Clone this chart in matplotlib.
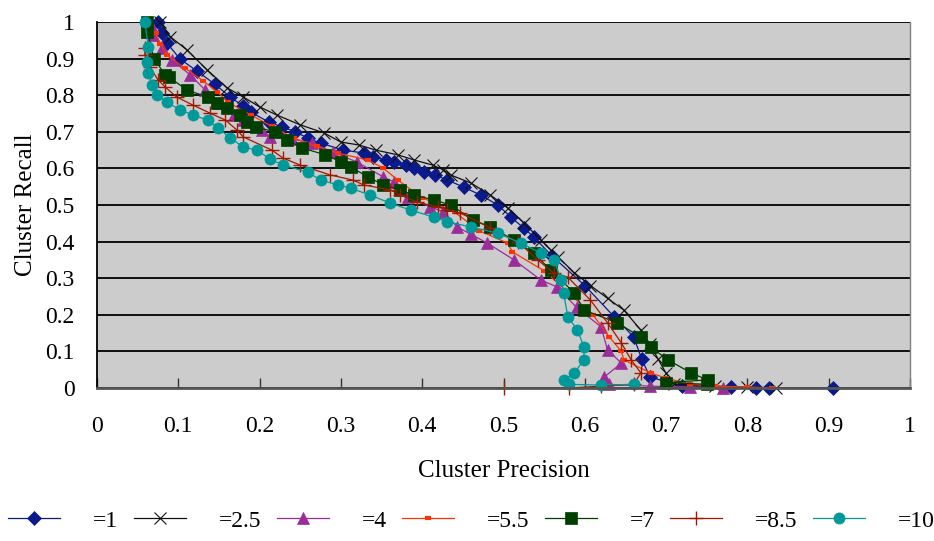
import matplotlib
matplotlib.use("Agg")
import matplotlib.pyplot as plt
from matplotlib.ticker import MultipleLocator, FuncFormatter

plt.rcParams['font.family'] = ['Liberation Serif', 'DejaVu Serif']

labels = ["=1", "=2.5", "=4", "=5.5", "=7", "=8.5", "=10"]

s1_x = [0.075, 0.080, 0.086, 0.102, 0.123, 0.145, 0.164, 0.180, 0.189, 0.211, 0.228, 0.244, 0.259, 0.275,
        0.303, 0.328, 0.340, 0.355, 0.365, 0.380, 0.390, 0.402, 0.416, 0.431, 0.451, 0.472, 0.493, 0.509,
        0.525, 0.537, 0.560, 0.600, 0.636, 0.660, 0.670, 0.680, 0.720, 0.780, 0.810, 0.827, 0.905]
s1_y = [1.000, 0.970, 0.943, 0.899, 0.866, 0.830, 0.795, 0.770, 0.754, 0.727, 0.713, 0.700, 0.683, 0.669,
        0.650, 0.642, 0.631, 0.623, 0.617, 0.609, 0.601, 0.590, 0.582, 0.568, 0.549, 0.527, 0.500, 0.467,
        0.437, 0.413, 0.360, 0.280, 0.195, 0.140, 0.080, 0.030, 0.005, 0.003, 0.000, 0.000, 0.000]

s2_x = [0.078, 0.090, 0.111, 0.135, 0.160, 0.180, 0.200, 0.221, 0.250, 0.279, 0.300, 0.322, 0.343, 0.370,
        0.390, 0.413, 0.426, 0.435, 0.460, 0.484, 0.505, 0.525, 0.546, 0.558, 0.567, 0.587, 0.607, 0.628,
        0.648, 0.669, 0.680, 0.690, 0.700, 0.710, 0.760, 0.800, 0.835]
s2_y = [1.000, 0.960, 0.923, 0.870, 0.820, 0.795, 0.768, 0.746, 0.719, 0.697, 0.672, 0.664, 0.650, 0.637,
        0.623, 0.609, 0.596, 0.582, 0.560, 0.527, 0.492, 0.451, 0.404, 0.377, 0.358, 0.315, 0.280, 0.245,
        0.213, 0.158, 0.120, 0.080, 0.040, 0.010, 0.005, 0.003, 0.000]

s3_x = [0.068, 0.069, 0.080, 0.092, 0.115, 0.133, 0.150, 0.168, 0.179, 0.203, 0.213, 0.240, 0.265, 0.290,
        0.320, 0.352, 0.365, 0.382, 0.410, 0.426, 0.443, 0.460, 0.480, 0.513, 0.546, 0.566, 0.590, 0.620,
        0.628, 0.645, 0.624, 0.630, 0.680, 0.730, 0.770]
s3_y = [0.985, 0.964, 0.929, 0.896, 0.855, 0.814, 0.780, 0.746, 0.732, 0.705, 0.686, 0.680, 0.669, 0.645,
        0.617, 0.577, 0.563, 0.522, 0.495, 0.481, 0.440, 0.420, 0.396, 0.350, 0.295, 0.276, 0.220, 0.167,
        0.104, 0.068, 0.030, 0.010, 0.005, 0.003, 0.000]

s4_x = [0.072, 0.078, 0.086, 0.108, 0.130, 0.148, 0.161, 0.190, 0.215, 0.242, 0.270, 0.296, 0.333, 0.352,
        0.370, 0.400, 0.440, 0.470, 0.505, 0.511, 0.550, 0.580, 0.610, 0.630, 0.645, 0.648, 0.681, 0.700,
        0.730, 0.760, 0.800, 0.830]
s4_y = [0.970, 0.940, 0.910, 0.874, 0.840, 0.809, 0.781, 0.745, 0.715, 0.683, 0.660, 0.642, 0.623, 0.601,
        0.568, 0.520, 0.480, 0.430, 0.396, 0.372, 0.320, 0.260, 0.200, 0.140, 0.100, 0.077, 0.041, 0.027,
        0.010, 0.005, 0.003, 0.000]

s5_x = [0.062, 0.062, 0.070, 0.084, 0.088, 0.111, 0.136, 0.148, 0.160, 0.176, 0.185, 0.195, 0.219, 0.234,
        0.252, 0.281, 0.300, 0.312, 0.333, 0.352, 0.373, 0.390, 0.414, 0.435, 0.463, 0.484, 0.513, 0.537,
        0.558, 0.587, 0.599, 0.640, 0.669, 0.681, 0.702, 0.731, 0.751, 0.700, 0.750]
s5_y = [1.000, 0.973, 0.900, 0.855, 0.850, 0.814, 0.795, 0.779, 0.765, 0.746, 0.727, 0.713, 0.700, 0.678,
        0.656, 0.637, 0.618, 0.604, 0.577, 0.555, 0.541, 0.527, 0.514, 0.500, 0.459, 0.440, 0.404, 0.369,
        0.322, 0.260, 0.213, 0.178, 0.139, 0.112, 0.077, 0.041, 0.022, 0.015, 0.010]

s6_x = [0.059, 0.059, 0.065, 0.075, 0.084, 0.098, 0.118, 0.139, 0.158, 0.172, 0.180, 0.215, 0.229, 0.250,
        0.287, 0.315, 0.328, 0.361, 0.373, 0.394, 0.419, 0.431, 0.447, 0.484, 0.518, 0.542, 0.562, 0.579,
        0.607, 0.628, 0.645, 0.657, 0.669, 0.660, 0.620, 0.580, 0.500]
s6_y = [0.930, 0.910, 0.877, 0.842, 0.822, 0.795, 0.773, 0.751, 0.732, 0.705, 0.686, 0.650, 0.628, 0.609,
        0.582, 0.568, 0.555, 0.541, 0.527, 0.508, 0.495, 0.486, 0.478, 0.437, 0.399, 0.350, 0.314, 0.303,
        0.240, 0.178, 0.123, 0.077, 0.041, 0.010, 0.005, 0.000, 0.000]

s7_x = [0.059, 0.063, 0.062, 0.063, 0.068, 0.074, 0.086, 0.102, 0.118, 0.136, 0.149, 0.164, 0.180, 0.197,
        0.213, 0.229, 0.259, 0.275, 0.296, 0.312, 0.336, 0.361, 0.386, 0.414, 0.431, 0.460, 0.493, 0.521,
        0.546, 0.562, 0.571, 0.574, 0.579, 0.591, 0.599, 0.599, 0.587, 0.574, 0.580, 0.620, 0.660]
s7_y = [1.000, 0.932, 0.890, 0.860, 0.828, 0.800, 0.781, 0.760, 0.746, 0.732, 0.710, 0.683, 0.658, 0.650,
        0.625, 0.609, 0.590, 0.568, 0.555, 0.546, 0.527, 0.505, 0.486, 0.467, 0.454, 0.440, 0.423, 0.396,
        0.369, 0.350, 0.295, 0.260, 0.195, 0.158, 0.112, 0.077, 0.041, 0.022, 0.010, 0.008, 0.010]

series_x = [s1_x, s2_x, s3_x, s4_x, s5_x, s6_x, s7_x]
series_y = [s1_y, s2_y, s3_y, s4_y, s5_y, s6_y, s7_y]

styles = [
    dict(color='#0A1A8C', marker='D', ms=7, mew=0.5),
    dict(color='#111111', marker='x', ms=8, mew=0.8),
    dict(color='#9B2D9B', marker='^', ms=9, mew=0.5),
    dict(color='#FF3300', marker='_', ms=5, mew=3),
    dict(color='#003F00', marker='s', ms=8, mew=0.5),
    dict(color='#A01800', marker='+', ms=10, mew=1.0),
    dict(color='#009999', marker='o', ms=8, mew=0.5),
]

fig = plt.figure(figsize=(9.34, 5.41), dpi=100)
ax = fig.add_axes([97/934, 1-388/541, (910-97)/934, (388-22)/541])
ax.set_facecolor('#CCCCCC')

handles = []
for xs, ys, st, lab in zip(series_x, series_y, styles, labels):
    h, = ax.plot(xs, ys, color=st['color'], lw=0.9, marker=st['marker'], ms=st['ms'],
                 mew=st['mew'], mfc=st['color'], mec=st['color'], label=lab, clip_on=False)
    handles.append(h)

ax.set_xlim(0, 1)
ax.set_ylim(0, 1)
ax.xaxis.set_major_locator(MultipleLocator(0.1))
ax.yaxis.set_major_locator(MultipleLocator(0.1))
fmt = FuncFormatter(lambda v, p: ('%g' % round(v, 2)))
ax.xaxis.set_major_formatter(fmt)
ax.yaxis.set_major_formatter(fmt)
ax.grid(axis='y', color='#000000', lw=1.3)
ax.set_axisbelow(True)
ax.tick_params(axis='x', direction='in', length=7, width=1, color='#333333', pad=20, labelsize=17)
ax.tick_params(axis='y', length=0, pad=16, labelsize=17)
ax.spines['top'].set_visible(False)
ax.spines['left'].set_color('#000000')
ax.spines['left'].set_linewidth(1.3)
ax.spines['bottom'].set_color('#555555')
ax.spines['bottom'].set_linewidth(2)
ax.spines['right'].set_color('#808080')
ax.spines['right'].set_linewidth(1)

ax.set_xlabel('Cluster Precision', fontsize=18, labelpad=17)
ax.set_ylabel('Cluster Recall', fontsize=18, labelpad=6)

fig.legend(handles, labels, loc='lower center', bbox_to_anchor=(0.505, -0.022), ncol=7, frameon=False,
           fontsize=17, handlelength=2.2, handletextpad=1.4, columnspacing=0.65, markerscale=1.0)

fig.savefig('out.png', dpi=100)
